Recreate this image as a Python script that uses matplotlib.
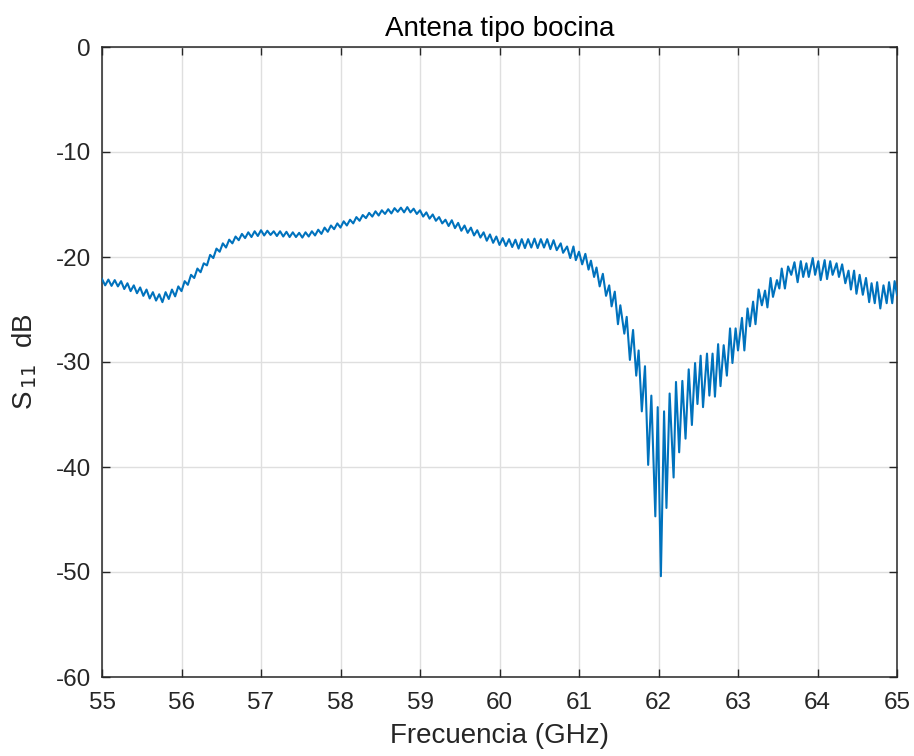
import numpy as np
import matplotlib
matplotlib.use("Agg")
import matplotlib.pyplot as plt

# Tramo 1: 55.00 - 60.72 GHz, barrido uniforme cada 0.04 GHz
f_tramo1 = np.round(np.arange(55.00, 60.73, 0.04), 2)
s11_tramo1 = [
    -22.1, -22.7, -22.15, -22.75, -22.2, -22.8, -22.3, -23.05, -22.5, -23.25,
    -22.7, -23.45, -22.9, -23.7, -23.1, -23.95, -23.35, -24.15, -23.55, -24.3,
    -23.35, -24.0, -23.1, -23.75, -22.8, -23.25, -22.3, -22.65, -21.7, -22.0,
    -21.1, -21.45, -20.6, -20.8, -19.8, -20.1, -19.2, -19.5, -18.7, -19.1,
    -18.35, -18.7, -18.05, -18.4, -17.8, -18.2, -17.65, -18.1, -17.55, -18.0,
    -17.45, -17.95, -17.5, -17.9, -17.55, -18.0, -17.55, -18.05, -17.6, -18.1,
    -17.65, -18.1, -17.7, -18.15, -17.65, -18.05, -17.55, -17.95, -17.4, -17.8,
    -17.2, -17.6, -17.0, -17.35, -16.8, -17.2, -16.6, -17.0, -16.45, -16.8,
    -16.2, -16.55, -16.0, -16.3, -15.8, -16.15, -15.65, -16.05, -15.55, -15.9,
    -15.45, -15.85, -15.35, -15.7, -15.3, -15.75, -15.25, -15.75, -15.4, -15.9,
    -15.55, -16.15, -15.75, -16.35, -15.95, -16.55, -16.2, -16.8, -16.45, -17.05,
    -16.5, -17.25, -16.75, -17.5, -17.0, -17.7, -17.2, -17.95, -17.45, -18.15,
    -17.65, -18.45, -17.85, -18.65, -18.05, -18.85, -18.2, -18.95, -18.3, -19.05,
    -18.35, -19.2, -18.3, -19.15, -18.3, -19.1, -18.25, -19.15, -18.3, -19.1,
    -18.3, -19.25, -18.4, -19.35,
]

# Tramo 2: caida hacia la resonancia (60.77 - 62.53 GHz)
f_tramo2 = [
    60.77, 60.80, 60.85, 60.89, 60.93, 60.96, 61.00, 61.04, 61.08, 61.12,
    61.15, 61.19, 61.22, 61.26, 61.30, 61.34, 61.38, 61.41, 61.45, 61.49,
    61.52, 61.57, 61.60, 61.64, 61.68, 61.72, 61.75, 61.79, 61.83, 61.87,
    61.91, 61.96, 61.99, 62.03, 62.07, 62.10, 62.14, 62.19, 62.22, 62.26,
    62.30, 62.34, 62.38, 62.42, 62.46, 62.49, 62.53,
]
s11_tramo2 = [
    -18.7, -19.6, -19.0, -20.1, -19.0, -20.3, -19.5, -20.7, -19.7, -21.2,
    -20.35, -21.9, -21.0, -22.8, -21.6, -23.7, -22.7, -24.7, -23.3, -26.4,
    -24.6, -27.3, -25.7, -29.8, -26.95, -31.3, -28.9, -34.7, -30.4, -39.8,
    -33.2, -44.7, -34.3, -50.4, -34.7, -43.9, -33.0, -41.0, -31.9, -38.6,
    -31.8, -37.3, -30.7, -36.0, -30.1, -34.0, -29.4,
]

# Tramo 3: recuperacion (62.56 - 65.00 GHz)
f_tramo3 = [
    62.56, 62.61, 62.64, 62.68, 62.71, 62.75, 62.78, 62.82, 62.86, 62.90,
    62.93, 62.97, 63.00, 63.05, 63.08, 63.12, 63.15, 63.19, 63.22, 63.26,
    63.30, 63.34, 63.37, 63.41, 63.44, 63.49, 63.52, 63.55, 63.59, 63.63,
    63.67, 63.71, 63.75, 63.79, 63.82, 63.86, 63.89, 63.94, 63.97, 64.01,
    64.04, 64.09, 64.12, 64.16, 64.19, 64.24, 64.27, 64.31, 64.35, 64.39,
    64.42, 64.46, 64.49, 64.53, 64.57, 64.61, 64.65, 64.68, 64.72, 64.75,
    64.79, 64.83, 64.87, 64.90, 64.94, 64.97, 65.00,
]
s11_tramo3 = [
    -34.3, -29.2, -33.2, -29.2, -33.3, -28.3, -32.3, -28.4, -31.3, -26.8,
    -30.1, -26.8, -28.9, -25.8, -28.9, -24.9, -26.6, -24.25, -26.4, -23.1,
    -24.6, -23.2, -24.8, -22.0, -23.8, -22.2, -23.0, -21.1, -23.0, -20.9,
    -21.7, -20.5, -22.4, -20.4, -21.9, -20.6, -21.9, -20.1, -21.7, -20.4,
    -22.2, -20.3, -22.1, -20.4, -21.7, -20.6, -21.9, -20.7, -22.5, -21.3,
    -23.1, -21.3, -23.5, -21.7, -23.6, -22.0, -24.3, -22.5, -24.4, -22.4,
    -24.9, -22.7, -24.4, -22.4, -24.4, -22.3, -23.6,
]

x_ticks = [55, 56, 57, 58, 59, 60, 61, 62, 63, 64, 65]
y_ticks = [-60, -50, -40, -30, -20, -10, 0]

frecuencia = np.concatenate([f_tramo1, f_tramo2, f_tramo3])
s11 = np.concatenate([s11_tramo1, s11_tramo2, s11_tramo3])

plt.rcParams["font.family"] = ["Liberation Sans", "DejaVu Sans"]
plt.rcParams["mathtext.fontset"] = "custom"
plt.rcParams["mathtext.rm"] = "Liberation Sans"
plt.rcParams["mathtext.it"] = "Liberation Sans"
plt.rcParams["axes.unicode_minus"] = False

eje_color = "#262626"

fig = plt.figure(figsize=(9.14, 7.56), dpi=100)
ax = fig.add_axes([102 / 914, 79 / 756, 795 / 914, 630 / 756])
ax.plot(frecuencia, s11, color="#0072BD", linewidth=1.5, zorder=3,
        solid_joinstyle="round")

ax.set_xlim(55, 65)
ax.set_ylim(-60, 0)
ax.set_xticks(x_ticks)
ax.set_yticks(y_ticks)
ax.grid(True, color="#dfdfdf", linewidth=1.0)
ax.set_axisbelow(True)

ax.tick_params(direction="in", length=5.5, width=1.0, colors=eje_color,
               labelsize=17.5, top=True, right=True)
ax.tick_params(axis="x", pad=11)
ax.tick_params(axis="y", pad=8)
for lado in ax.spines.values():
    lado.set_color(eje_color)
    lado.set_linewidth(1.1)

ax.set_xlabel("Frecuencia (GHz)", fontsize=20, color=eje_color, labelpad=6)
ax.set_ylabel(r"S$_{\mathsf{\,11}}$  dB", fontsize=20, color=eje_color, labelpad=12)
ax.set_title("Antena tipo bocina", fontsize=20, color="black", pad=8)

fig.savefig("out.png", dpi=100)
plt.close(fig)
